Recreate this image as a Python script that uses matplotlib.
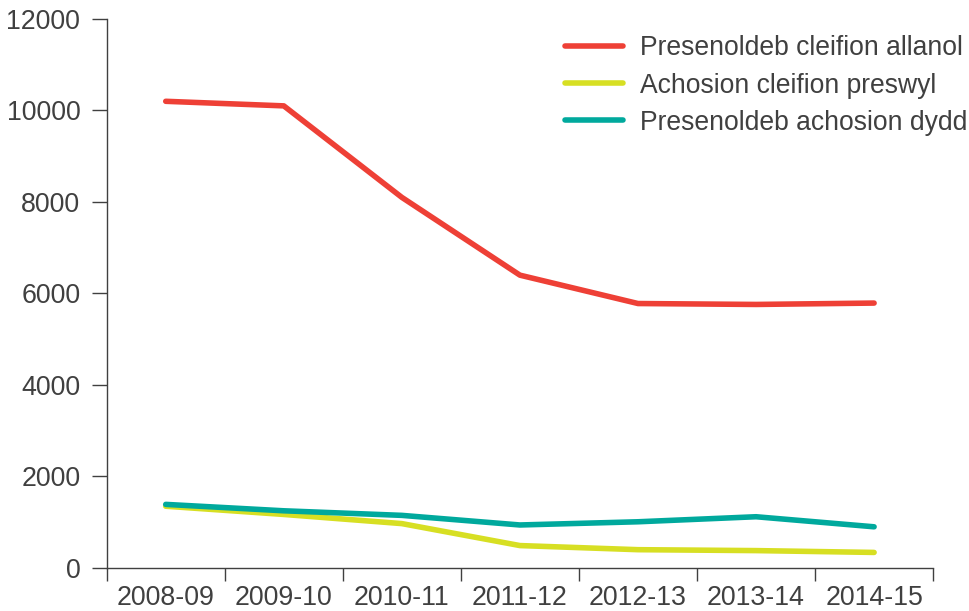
import matplotlib.pyplot as plt
import numpy as np

plt.rcParams['font.family'] = ['Liberation Sans', 'DejaVu Sans']

years = ['2008-09', '2009-10', '2010-11', '2011-12', '2012-13', '2013-14', '2014-15']
allanol = [10200, 10100, 8100, 6400, 5780, 5760, 5790]
preswyl = [1350, 1170, 970, 490, 400, 380, 340]
dydd = [1390, 1250, 1150, 940, 1010, 1120, 900]

series_names = ['Presenoldeb cleifion allanol', 'Achosion cleifion preswyl',
                'Presenoldeb achosion dydd']
colours = ['#EE4036', '#D7DF23', '#00A99D']
grey = '#404040'

fig = plt.figure(figsize=(9.7, 6.11), dpi=100)
ax = fig.add_axes([0.110, 0.0704, 0.852, 0.8986])

x = np.arange(len(years))
for vals, name, c in zip([allanol, preswyl, dydd], series_names, colours):
    ax.plot(x, vals, color=c, lw=4, label=name, solid_capstyle='round')

ax.set_xlim(-0.5, len(years) - 0.5)
ax.set_ylim(0, 12000)
ax.set_yticks(range(0, 12001, 2000))

# ticks at category boundaries, labels at centres
ax.set_xticks(np.arange(-0.5, len(years), 1.0))
ax.set_xticklabels([])
ax.set_xticks(x, minor=True)
ax.set_xticklabels(years, minor=True)
ax.tick_params(axis='x', which='major', length=9, width=1, color=grey, direction='out')
ax.tick_params(axis='x', which='minor', length=0, pad=12, labelsize=19.3, labelcolor=grey)
ax.tick_params(axis='y', length=11, width=1, color=grey, pad=8, labelsize=19.3, labelcolor=grey)

for s in ['top', 'right']:
    ax.spines[s].set_visible(False)
for s in ['left', 'bottom']:
    ax.spines[s].set_color(grey)
    ax.spines[s].set_linewidth(1)

leg = ax.legend(loc='upper right', bbox_to_anchor=(1.042, 0.97), frameon=False,
                borderaxespad=0, borderpad=0,
                fontsize=19.1, handlelength=2.2, handletextpad=0.65, labelspacing=0.42)
for t in leg.get_texts():
    t.set_color(grey)

fig.savefig('out.png', dpi=100)
